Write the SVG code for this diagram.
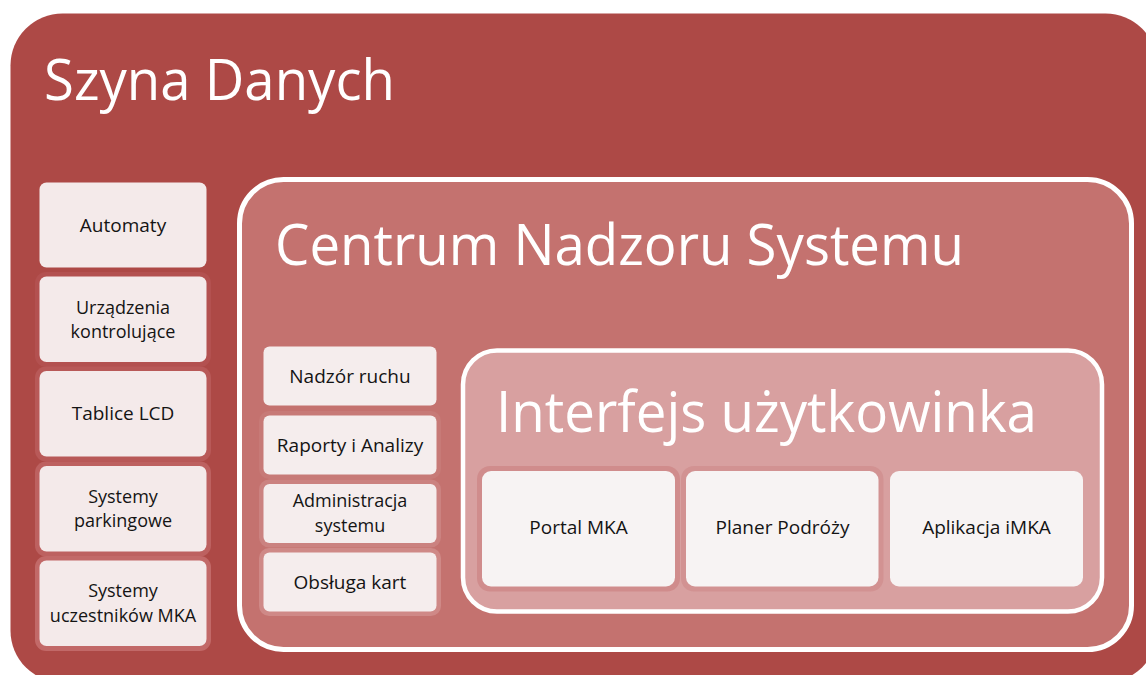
<svg xmlns="http://www.w3.org/2000/svg" width="1146" height="675" viewBox="0 0 1146 675">
<style>
.title{font-family:"Open Sans","Noto Sans",sans-serif;fill:#ffffff;font-size:56px}
.lbl{font-family:"Open Sans","Noto Sans",sans-serif;fill:#141414;font-size:19px;text-anchor:middle}
.lbl2{font-family:"Open Sans","Noto Sans",sans-serif;fill:#141414;font-size:18px;text-anchor:middle}
.boxL{fill:#F4EAEA}
.boxM{fill:#F5EDED}
.boxI{fill:#F7F3F3}
</style>
<rect width="1146" height="675" fill="#ffffff"/>
<g id="szyna">
<rect x="10.5" y="13.5" width="1147" height="669" rx="52" fill="#AD4946"/>
<text class="title" x="44" y="100" textLength="351" lengthAdjust="spacingAndGlyphs">Szyna Danych</text>
</g>
<g id="left-column">
<g id="automaty">
<rect class="boxL" x="39.5" y="182.5" width="167" height="85" rx="7"/>
<text class="lbl" x="123" y="231.5">Automaty</text>
</g>
<g id="urzadzenia">
<rect x="35" y="272" width="176" height="95" rx="11" fill="#B35150"/>
<rect class="boxL" x="39.5" y="276.5" width="167" height="85.5" rx="7"/>
<text class="lbl2" x="123" y="313.5">Urządzenia</text>
<text class="lbl2" x="123" y="338">kontrolujące</text>
</g>
<g id="tablice">
<rect x="35" y="366.5" width="176" height="95" rx="11" fill="#B85958"/>
<rect class="boxL" x="39.5" y="371" width="167" height="85.5" rx="7"/>
<text class="lbl" x="123" y="420">Tablice LCD</text>
</g>
<g id="parkingowe">
<rect x="35" y="461.5" width="176" height="95" rx="11" fill="#BD6160"/>
<rect class="boxL" x="39.5" y="466" width="167" height="85.5" rx="7"/>
<text class="lbl2" x="123" y="502.5">Systemy</text>
<text class="lbl2" x="123" y="527">parkingowe</text>
</g>
<g id="uczestnicy">
<rect x="35" y="556" width="176" height="95" rx="11" fill="#C26968"/>
<rect class="boxL" x="39.5" y="560.5" width="167" height="85.5" rx="7"/>
<text class="lbl2" x="123" y="597">Systemy</text>
<text class="lbl2" x="123" y="621.5">uczestników MKA</text>
</g>
</g>
<g id="centrum">
<rect x="239.5" y="179.5" width="892" height="470" rx="44" fill="#C4726F" stroke="#ffffff" stroke-width="5"/>
<text class="title" x="275" y="265" textLength="689" lengthAdjust="spacingAndGlyphs">Centrum Nadzoru Systemu</text>
</g>
<g id="centrum-items">
<g id="nadzor">
<rect class="boxM" x="263.5" y="346.5" width="173" height="59" rx="6"/>
<text class="lbl" x="350" y="382.5">Nadzór ruchu</text>
</g>
<g id="raporty">
<rect x="259" y="411" width="182" height="68" rx="10" fill="#C77A77"/>
<rect class="boxM" x="263.5" y="415.5" width="173" height="59" rx="6"/>
<text class="lbl" x="350" y="451.5">Raporty i Analizy</text>
</g>
<g id="administracja">
<rect x="259" y="479.5" width="182" height="68" rx="10" fill="#CB8280"/>
<rect class="boxM" x="263.5" y="484" width="173" height="59" rx="6"/>
<text class="lbl2" x="350" y="507">Administracja</text>
<text class="lbl2" x="350" y="531.5">systemu</text>
</g>
<g id="karty">
<rect x="259" y="548" width="182" height="68" rx="10" fill="#CF8987"/>
<rect class="boxM" x="263.5" y="552.5" width="173" height="59" rx="6"/>
<text class="lbl" x="350" y="588.5">Obsługa kart</text>
</g>
</g>
<g id="interfejs">
<rect x="463" y="350.5" width="639" height="261" rx="34" fill="#D8A0A0" stroke="#ffffff" stroke-width="4.5"/>
<text class="title" x="496" y="431.5" textLength="541" lengthAdjust="spacingAndGlyphs">Interfejs użytkowinka</text>
</g>
<g id="interfejs-items">
<g id="portal">
<rect x="477" y="466" width="203" height="125.5" rx="13" fill="#D08C8C"/>
<rect class="boxI" x="482" y="471" width="193" height="115.5" rx="9"/>
<text class="lbl" x="578.5" y="534">Portal MKA</text>
</g>
<g id="planer">
<rect x="681" y="466" width="202.5" height="125.5" rx="13" fill="#D29292"/>
<rect class="boxI" x="686" y="471" width="192.5" height="115.5" rx="9"/>
<text class="lbl" x="782.5" y="534">Planer Podróży</text>
</g>
<g id="aplikacja">
<rect class="boxI" x="890" y="471" width="193" height="115.5" rx="9"/>
<text class="lbl" x="986.5" y="534">Aplikacja iMKA</text>
</g>
</g>
<g id="connectors"/>
</svg>
